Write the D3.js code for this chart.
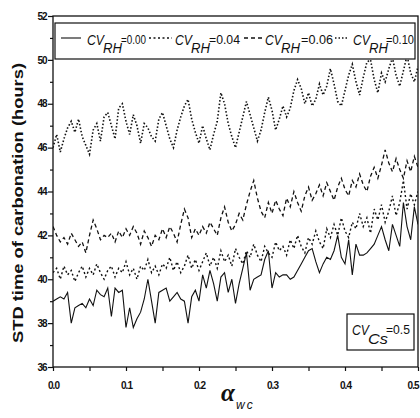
<!DOCTYPE html>
<html><head><meta charset="utf-8">
<script src="https://cdn.jsdelivr.net/npm/d3@7"></script>
<style>body{margin:0;background:#fff}svg{display:block}</style>
</head><body>
<svg id="c" width="420" height="418"></svg>
<script>
const xTicks = [0.0, 0.1, 0.2, 0.3, 0.4, 0.5];
const xTickLabels = ["0.0", "0.1", "0.2", "0.3", "0.4", "0.5"];
const yTicks = [36, 38, 40, 42, 44, 46, 48, 50, 52];
const seriesNames = ["0.00", "0.04", "0.06", "0.10"];
const s00 = [39.0,39.1,39.2,39.1,39.4,38.0,38.7,38.8,38.9,38.7,
39.1,38.8,39.5,39.3,39.2,39.6,38.3,39.6,39.4,39.5,
37.8,38.7,37.8,38.2,38.5,39.1,40.0,39.0,38.0,39.4,
39.5,39.6,39.0,39.2,39.4,39.1,39.0,38.0,39.2,39.5,
39.0,40.2,39.6,40.4,39.8,39.0,40.1,40.3,39.4,40.0,
38.9,39.8,40.5,41.2,39.5,40.0,40.1,40.2,40.9,41.3,
39.6,40.3,40.1,40.2,40.2,40.0,40.1,40.4,40.7,41.0,
41.3,41.4,40.8,40.3,40.7,41.0,40.9,41.3,42.0,41.0,
40.7,41.8,40.2,41.6,41.1,41.1,41.2,41.4,41.6,42.0,
42.4,41.8,41.3,42.5,42.0,41.5,43.5,42.4,41.8,43.3,42.5];
const s04 = [40.3,40.5,40.0,40.6,40.2,40.4,39.9,40.3,40.6,40.1,
40.5,40.2,40.7,40.3,40.0,40.4,40.6,40.1,40.5,40.3,
40.8,40.2,40.5,40.0,40.6,40.4,40.9,40.3,40.6,40.2,
40.7,40.5,41.0,40.4,40.8,40.3,40.6,41.1,40.5,40.9,
40.4,40.8,41.2,40.6,41.0,40.5,41.3,40.8,41.1,40.6,
41.4,41.0,40.7,41.3,41.0,41.6,41.1,40.8,41.5,41.2,
41.0,41.7,41.3,41.5,41.1,41.8,41.4,42.0,41.5,41.2,
41.9,41.6,42.2,41.7,41.4,42.3,41.9,42.5,42.0,42.8,
42.2,41.9,42.6,42.3,43.0,42.4,42.8,42.1,43.2,42.7,
43.4,42.6,43.1,43.8,42.9,43.5,44.5,43.2,43.9,43.4,44.0];
const s06 = [42.4,42.0,41.7,41.9,41.6,42.1,41.8,41.5,41.7,41.2,
42.0,42.7,42.3,41.8,42.0,41.9,42.1,41.7,42.2,41.9,
42.3,42.0,42.4,42.1,41.6,42.2,41.9,41.5,42.0,41.8,
42.3,41.9,42.4,42.1,41.7,42.5,43.2,42.8,41.9,42.3,
42.0,42.4,42.1,42.6,42.3,42.0,42.8,43.3,42.6,42.2,
42.5,43.0,42.7,43.4,44.0,44.5,43.7,43.1,42.8,43.5,
43.0,43.6,43.2,42.9,43.7,43.3,44.0,43.5,43.1,43.8,
44.2,43.6,43.9,44.3,43.8,44.4,44.0,43.6,44.2,44.6,
44.1,43.8,44.5,44.2,44.8,44.3,44.0,44.7,45.1,44.6,
45.2,45.9,45.3,44.9,45.5,45.0,44.6,45.4,44.9,45.6,45.1];
const s10 = [46.0,46.6,45.8,46.4,46.9,47.2,46.7,47.3,46.5,46.1,
45.7,46.8,47.1,46.3,47.4,47.6,47.0,46.4,47.8,48.0,
47.2,46.6,47.5,47.0,46.2,47.1,46.9,46.5,46.3,47.3,
47.6,47.0,46.4,46.0,46.8,47.4,47.9,48.2,47.3,46.7,
46.2,47.0,46.4,45.9,46.6,47.2,48.5,48.0,47.1,46.5,
46.0,46.7,47.4,48.1,47.5,46.9,46.3,46.8,47.6,48.3,
47.7,46.8,47.3,47.9,47.4,47.8,48.6,49.1,48.7,48.0,
48.5,47.9,48.2,48.9,48.4,48.8,49.6,48.9,48.1,47.9,
48.6,49.3,49.8,49.0,48.4,49.2,49.9,50.0,49.1,48.5,
49.4,49.0,49.6,50.1,49.3,48.8,49.5,50.2,49.4,49.0,49.7];
const xStep = 0.005;

const svg = d3.select("#c");
const L = 53, R = 418, T = 16, B = 367;
const x = d3.scaleLinear().domain([0, 0.5]).range([L, R]);
const y = d3.scaleLinear().domain([36, 52]).range([B, T]);
const ink = "#111";
const SANS = "Liberation Sans, Arial, sans-serif";

svg.append("defs").append("clipPath").attr("id","clip")
  .append("rect").attr("x",L).attr("y",T).attr("width",R-L).attr("height",B-T);

const styles = [
  {dash: null, w: 1.1},
  {dash: "2,2.5", w: 1.4},
  {dash: "4,3", w: 1.3},
  {dash: "1.5,2", w: 1.6}
];
const all = [s00, s04, s06, s10];
const line = d3.line().x((d,i)=>x(i*xStep)).y(d=>y(d));
const g = svg.append("g").attr("clip-path","url(#clip)");
all.forEach((s,k)=>{
  g.append("path").datum(s).attr("d",line).attr("fill","none")
   .attr("stroke",ink).attr("stroke-width",styles[k].w)
   .attr("stroke-dasharray",styles[k].dash);
});

// frame
svg.append("rect").attr("x",L).attr("y",T).attr("width",R-L).attr("height",B-T)
  .attr("fill","none").attr("stroke",ink).attr("stroke-width",1.3);

// axes
const xa = svg.append("g").attr("transform",`translate(0,${B})`)
  .call(d3.axisBottom(x).tickValues(xTicks).tickSize(4).tickFormat((d,i)=>xTickLabels[i]));
const xm = svg.append("g").attr("transform",`translate(0,${B})`)
  .call(d3.axisBottom(x).tickValues([0.05,0.15,0.25,0.35,0.45]).tickSize(4).tickFormat(""));
const ya = svg.append("g").attr("transform",`translate(${L},0)`)
  .call(d3.axisLeft(y).tickValues(yTicks).tickSize(5).tickFormat(d3.format("d")));
const ym = svg.append("g").attr("transform",`translate(${L},0)`)
  .call(d3.axisLeft(y).tickValues([37,39,41,43,45,47,49,51]).tickSize(3).tickFormat(""));
[xa,xm,ya,ym].forEach(a=>{
  a.select(".domain").remove();
  a.selectAll("line").attr("stroke",ink).attr("stroke-width",1.2);
  a.selectAll("text").attr("fill",ink).attr("font-family",SANS)
   .attr("font-weight","bold").attr("font-size",10);
});
xa.selectAll("text").attr("dy","1.5em").attr("letter-spacing","-1");
xa.selectAll("text").filter((d,i)=>i===xTicks.length-1).attr("text-anchor","end").attr("x",0);
ya.selectAll("text").attr("dx","0.15em").attr("letter-spacing","-1");

// axis titles
svg.append("text").attr("transform",`translate(23,203) rotate(-90)`)
  .attr("text-anchor","middle").attr("font-family",SANS)
  .attr("font-weight","bold").attr("font-size",15).attr("fill",ink)
  .attr("textLength",280).attr("lengthAdjust","spacingAndGlyphs")
  .text("STD time of carbonation (hours)");
svg.append("text").attr("x",221).attr("y",401)
  .attr("font-family","Liberation Serif, Times New Roman, serif").attr("font-style","italic")
  .attr("font-weight","bold").attr("font-size",25).attr("fill",ink).text("α");
svg.append("text").attr("x",236).attr("y",409)
  .attr("font-family",SANS).attr("font-style","italic").attr("font-size",12)
  .attr("letter-spacing","2").attr("fill",ink).text("wc");

// legend
const lg = svg.append("g");
lg.append("rect").attr("x",55).attr("y",23).attr("width",360).attr("height",36)
  .attr("fill","#fff").attr("stroke",ink).attr("stroke-width",1.2);
const entries = [
  {x1:61, x2:81, cv:87, rh:103, eq:121, eqw:25},
  {x1:149, x2:172, cv:175, rh:191, eq:209, eqw:31},
  {x1:244, x2:262, cv:265, rh:281, eq:301, eqw:32},
  {x1:335, x2:348, cv:353, rh:369, eq:386, eqw:28}
];
function piece(t, x0, yy, txt, size, w, italic){
  t.append("text").attr("x",x0).attr("y",yy).attr("fill",ink).attr("font-family",SANS)
   .attr("font-style",italic?"italic":"normal").attr("font-size",size)
   .attr("textLength",w).attr("lengthAdjust","spacingAndGlyphs").text(txt);
}
entries.forEach((e,k)=>{
  lg.append("line").attr("x1",e.x1).attr("x2",e.x2).attr("y1",38).attr("y2",38)
    .attr("stroke",ink).attr("stroke-width",styles[k].w).attr("stroke-dasharray",styles[k].dash);
  piece(lg, e.cv, 45, "CV", 14, 17, true);
  piece(lg, e.rh, 53, "RH", 14, 19, true);
  piece(lg, e.eq, 44, "=" + seriesNames[k], 12.5, e.eqw, false);
});

// CV_Cs box
svg.append("rect").attr("x",347).attr("y",314).attr("width",67).attr("height",36)
  .attr("fill","#fff").attr("stroke",ink).attr("stroke-width",1.2);
piece(svg, 352, 335, "CV", 14, 17, true);
piece(svg, 368, 344, "Cs", 15, 20, true);
piece(svg, 386, 334, "=0.5", 12.5, 24, false);
</script>
</body></html>
